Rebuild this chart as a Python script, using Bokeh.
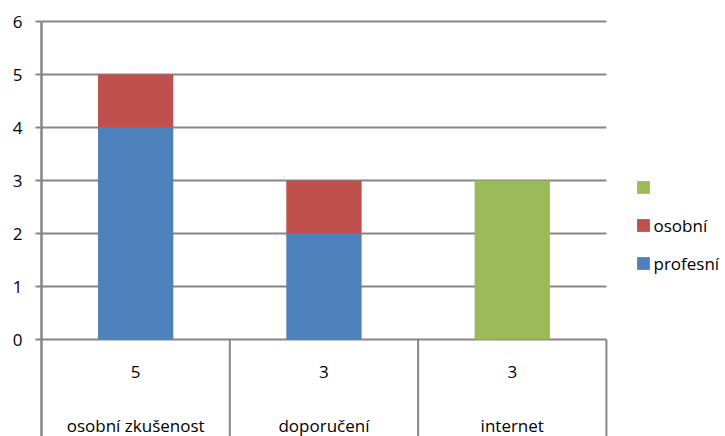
from bokeh.plotting import figure
from bokeh.models import Range1d, FixedTicker, Legend, LegendItem, ColumnDataSource
from bokeh.core.properties import value
from bokeh.embed import file_html
from bokeh.resources import INLINE
import numpy as np

# Data
categories = ["osobní zkušenost", "doporučení", "internet"]
profesni = [4, 2, 0]
osobni = [1, 1, 0]
ostatni = [0, 0, 3]
series_keys = ["profesni", "osobni", "ostatni"]
series_labels = ["profesní", "osobní", "\u00a0"]
series_colors = ["#4F81BD", "#C0504D", "#9BBB59"]
y_ticks = [0, 1, 2, 3, 4, 5, 6]

totals = [a + b + c for a, b, c in zip(profesni, osobni, ostatni)]
n = len(categories)
x = list(np.arange(n) + 0.5)

# Layout (pixels)
W, H = 725, 436
LEFT = 41
CAT_PX = 188.3
UNIT_PX = 53.0
ZERO_PX = 339

x_end = (W - LEFT) / CAT_PX
y_top = ZERO_PX / UNIT_PX
y_bottom = -(H - ZERO_PX) / UNIT_PX

FONT = "Open Sans"
FS = "17px"
GRID = "#868686"

p = figure(width=W, height=H, x_range=Range1d(0, x_end), y_range=Range1d(y_bottom, y_top),
           output_backend="svg", toolbar_location=None, x_axis_location=None,
           min_border_left=LEFT, min_border_right=0, min_border_top=0, min_border_bottom=0)
p.outline_line_color = None
p.grid.visible = False

# y axis
ax = p.yaxis[0]
ax.ticker = FixedTicker(ticks=y_ticks)
ax.bounds = (y_bottom, max(y_ticks))
ax.axis_line_color = GRID
ax.axis_line_width = 2.5
ax.major_tick_line_color = GRID
ax.major_tick_line_width = 2
ax.major_tick_out = 6
ax.major_tick_in = 0
ax.minor_tick_line_color = None
ax.major_label_text_font = FONT
ax.major_label_text_font_size = FS
ax.major_label_text_color = "#000000"
ax.major_label_standoff = 13

# horizontal gridlines, limited to the category area
p.segment(x0=0, y0=y_ticks, x1=n, y1=y_ticks, line_color=GRID, line_width=2)

# table separators below the axis
seps = list(range(1, n + 1))
p.segment(x0=seps, y0=0, x1=seps, y1=y_bottom, line_color=GRID, line_width=2)

# stacked bars
source = ColumnDataSource(dict(x=x, profesni=profesni, osobni=osobni, ostatni=ostatni))
renderers = p.vbar_stack(series_keys, x="x", width=0.4, color=series_colors,
                         line_color=None, source=source)

# data table: totals and category names
p.text(x=x, y=[-0.62] * n, text=[str(t) for t in totals], text_align="center",
       text_baseline="middle", text_font=value(FONT), text_font_size=FS, text_color="#000000")
p.text(x=x, y=[-1.62] * n, text=categories, text_align="center",
       text_baseline="middle", text_font=value(FONT), text_font_size=FS, text_color="#000000")

# legend (reverse stacking order)
items = [LegendItem(label=series_labels[i], renderers=[renderers[i]]) for i in reversed(range(len(series_keys)))]
legend = Legend(items=items, location=(593.5, 161), glyph_width=16, glyph_height=16,
                label_height=24, spacing=14, padding=0, margin=0, label_standoff=3,
                border_line_color=None, background_fill_alpha=0,
                label_text_font=FONT, label_text_font_size=FS, label_text_color="#000000")
p.add_layout(legend)

open("out.html", "w").write(file_html(p, INLINE))
